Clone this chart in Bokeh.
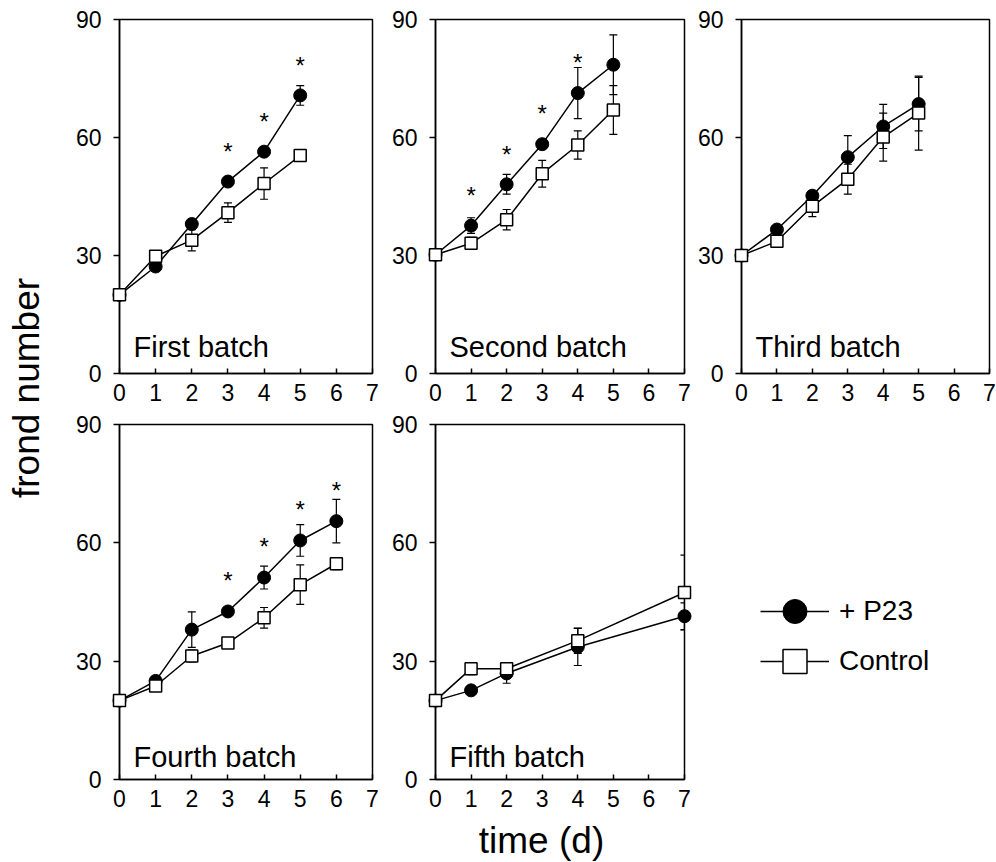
from bokeh.plotting import figure
from bokeh.models import (Range1d, Whisker, TeeHead, ColumnDataSource, Label,
                          FixedTicker, Legend, LegendItem)
from bokeh.layouts import row, column
from bokeh.embed import file_html
from bokeh.resources import INLINE
from bokeh.core.properties import value

FONT = "Liberation Sans"

X_TICKS = [0, 1, 2, 3, 4, 5, 6, 7]
Y_TICKS = [0, 30, 60, 90]

# First batch
days_1 = [0, 1, 2, 3, 4, 5]
p23_1 = [20, 27.2, 38.0, 48.8, 56.4, 70.7]
p23_err_1 = [0, 1.0, 1.2, 1.2, 1.2, 2.5]
ctl_1 = [20, 29.8, 33.9, 40.9, 48.3, 55.4]
ctl_err_1 = [0, 1.0, 2.7, 2.5, 4.0, 1.2]
star_x_1 = [3, 4, 5]
star_y_1 = [57.8, 65.4, 79.7]

# Second batch
days_2 = [0, 1, 2, 3, 4, 5]
p23_2 = [30.2, 37.6, 48.1, 58.3, 71.3, 78.5]
p23_err_2 = [0, 2.0, 2.5, 1.2, 6.5, 7.6]
ctl_2 = [30.2, 33.1, 39.1, 50.8, 58.1, 67.0]
ctl_err_2 = [0, 1.5, 2.6, 3.4, 3.6, 6.2]
star_x_2 = [1, 2, 3, 4]
star_y_2 = [46.6, 56.9, 67.4, 80.4]

# Third batch
days_3 = [0, 1, 2, 3, 4, 5]
p23_3 = [30, 36.6, 45.2, 55.0, 62.8, 68.5]
p23_err_3 = [0, 1.0, 1.0, 5.5, 5.6, 6.8]
ctl_3 = [30, 33.6, 42.5, 49.4, 60.1, 66.2]
ctl_err_3 = [0, 1.5, 2.6, 3.8, 6.1, 9.4]
star_x_3 = []
star_y_3 = []

# Fourth batch
days_4 = [0, 1, 2, 3, 4, 5, 6]
p23_4 = [20, 25.0, 38.0, 42.6, 51.2, 60.6, 65.5]
p23_err_4 = [0, 1.0, 4.5, 1.0, 2.9, 4.0, 5.5]
ctl_4 = [20, 23.7, 31.3, 34.6, 41.0, 49.4, 54.7]
ctl_err_4 = [0, 1.0, 1.5, 1.3, 2.6, 5.0, 1.5]
star_x_4 = [3, 4, 5, 6]
star_y_4 = [51.6, 60.3, 69.6, 74.6]

# Fifth batch
days_5 = [0, 1, 2, 4, 7]
p23_5 = [20, 22.6, 26.9, 33.6, 41.4]
p23_err_5 = [0, 0.8, 2.5, 4.7, 3.4]
ctl_5 = [20, 28.1, 28.1, 35.2, 47.4]
ctl_err_5 = [0, 1.5, 1.5, 3.2, 9.5]
star_x_5 = []
star_y_5 = []

names = ["First batch", "Second batch", "Third batch", "Fourth batch", "Fifth batch"]
series_names = ["+ P23", "Control"]
NAN = float("nan")


def make_panel(w, h, bl, br, bt, bb, x, y1, e1, y2, e2, sx, sy, name, name_dy):
    p = figure(width=w, height=h, x_range=Range1d(0, 7), y_range=Range1d(0, 90),
               output_backend="svg", toolbar_location=None,
               min_border_left=bl, min_border_right=br,
               min_border_top=bt, min_border_bottom=bb)
    p.xgrid.visible = False
    p.ygrid.visible = False
    p.outline_line_color = "black"
    p.outline_line_width = 1.5
    p.outline_line_alpha = 1.0
    p.xaxis.ticker = FixedTicker(ticks=X_TICKS)
    p.yaxis.ticker = FixedTicker(ticks=Y_TICKS)
    for ax in (p.xaxis[0], p.yaxis[0]):
        ax.axis_line_color = "black"
        ax.axis_line_width = 1.5
        ax.major_tick_line_color = "black"
        ax.major_tick_line_width = 1.5
        ax.minor_tick_line_color = None
        ax.major_label_text_font = FONT
        ax.major_label_text_font_size = "23px"
        ax.major_label_text_color = "black"
    p.xaxis.major_tick_in = 5
    p.xaxis.major_tick_out = 0
    p.xaxis.major_label_standoff = 10
    p.yaxis.major_tick_in = 0
    p.yaxis.major_tick_out = 6
    p.yaxis.major_label_standoff = 12

    s1 = ColumnDataSource(dict(x=x, y=y1, lo=[a - b for a, b in zip(y1, e1)],
                               hi=[a + b for a, b in zip(y1, e1)]))
    s2 = ColumnDataSource(dict(x=x, y=y2, lo=[a - b for a, b in zip(y2, e2)],
                               hi=[a + b for a, b in zip(y2, e2)]))
    for s in (s1, s2):
        p.add_layout(Whisker(source=s, base="x", lower="lo", upper="hi",
                             line_color="black", line_width=1.2,
                             upper_head=TeeHead(size=8, line_width=1.2, line_color="black"),
                             lower_head=TeeHead(size=8, line_width=1.2, line_color="black")))
    p.line("x", "y", source=s1, line_color="black", line_width=1.5)
    p.line("x", "y", source=s2, line_color="black", line_width=1.5)
    p.scatter("x", "y", source=s1, marker="circle", size=13, fill_color="black",
              line_color="black", line_width=1, level="overlay")
    p.scatter("x", "y", source=s2, marker="square", size=12, fill_color="white",
              line_color="black", line_width=1.5, level="overlay")
    if sx:
        p.text(x=sx, y=sy, text=["*"] * len(sx), text_font=value(FONT),
               text_font_size="24px", text_align="center", text_baseline="middle",
               y_offset=5, text_color="black")
    p.add_layout(Label(x=14, y=name_dy, x_units="screen", y_units="screen", text=name,
                       text_font=FONT, text_font_size="29px", text_color="black",
                       text_baseline="alphabetic"))
    return p


H1, H2, H3 = 411, 408, 43
f1 = make_panel(328, H1, 59, 16, 19, 38, days_1, p23_1, p23_err_1, ctl_1, ctl_err_1,
                star_x_1, star_y_1, names[0], 27)
f2 = make_panel(306, H1, 45, 10, 19, 38, days_2, p23_2, p23_err_2, ctl_2, ctl_err_2,
                star_x_2, star_y_2, names[1], 27)
f3 = make_panel(302, H1, 45, 7, 19, 38, days_3, p23_3, p23_err_3, ctl_3, ctl_err_3,
                star_x_3, star_y_3, names[2], 27)
f4 = make_panel(328, H2, 59, 16, 13, 40, days_4, p23_4, p23_err_4, ctl_4, ctl_err_4,
                star_x_4, star_y_4, names[3], 23)
f5 = make_panel(306, H2, 45, 10, 13, 40, days_5, p23_5, p23_err_5, ctl_5, ctl_err_5,
                star_x_5, star_y_5, names[4], 23)

# legend panel
f6 = figure(width=302, height=H2, x_range=Range1d(0, 1), y_range=Range1d(0, 1),
            output_backend="svg", toolbar_location=None,
            x_axis_location=None, y_axis_location=None,
            min_border_left=0, min_border_right=0, min_border_top=13, min_border_bottom=40)
f6.grid.visible = False
f6.outline_line_color = None
lr1 = f6.line(x=[NAN], y=[NAN], line_color="black", line_width=1.5)
sr1 = f6.scatter(x=[NAN], y=[NAN], marker="circle", fill_color="black", line_color="black")
lr2 = f6.line(x=[NAN], y=[NAN], line_color="black", line_width=1.5)
sr2 = f6.scatter(x=[NAN], y=[NAN], marker="square", fill_color="white", line_color="black",
                 line_width=1.5)
for label, rs, loc in ((series_names[0], [lr1, sr1], (66, 138)),
                       (series_names[1], [lr2, sr2], (66, 88))):
    leg = Legend(items=[LegendItem(label=label, renderers=rs)], location=loc,
                 glyph_width=69, glyph_height=60, padding=0, spacing=0, margin=0,
                 label_standoff=10, label_text_font=FONT, label_text_font_size="28px",
                 label_text_color="black", border_line_color=None,
                 background_fill_alpha=0)
    f6.add_layout(leg)

# y-axis title panel
ylab = figure(width=60, height=H1 + H2, x_range=Range1d(0, 1), y_range=Range1d(0, 1),
              output_backend="svg", toolbar_location=None,
              x_axis_location=None, y_axis_location=None, min_border=0)
ylab.grid.visible = False
ylab.outline_line_color = None
ylab.add_layout(Label(x=25.5, y=H1 + H2 - 387.5, x_units="screen", y_units="screen",
                      text="frond number", angle=90, angle_units="deg", text_font=FONT,
                      text_font_size="37px", text_color="black", text_align="center",
                      text_baseline="middle"))

# x-axis title panel
xlab = figure(width=996, height=H3, x_range=Range1d(0, 1), y_range=Range1d(0, 1),
              output_backend="svg", toolbar_location=None,
              x_axis_location=None, y_axis_location=None, min_border=0)
xlab.grid.visible = False
xlab.outline_line_color = None
xlab.add_layout(Label(x=541, y=22, x_units="screen", y_units="screen", text="time (d)",
                      text_font=FONT, text_font_size="37px", text_color="black",
                      text_align="center", text_baseline="alphabetic"))

layout = column(row(ylab, column(row(f1, f2, f3), row(f4, f5, f6))), xlab)

open("out.html", "w").write(file_html(layout, INLINE))
